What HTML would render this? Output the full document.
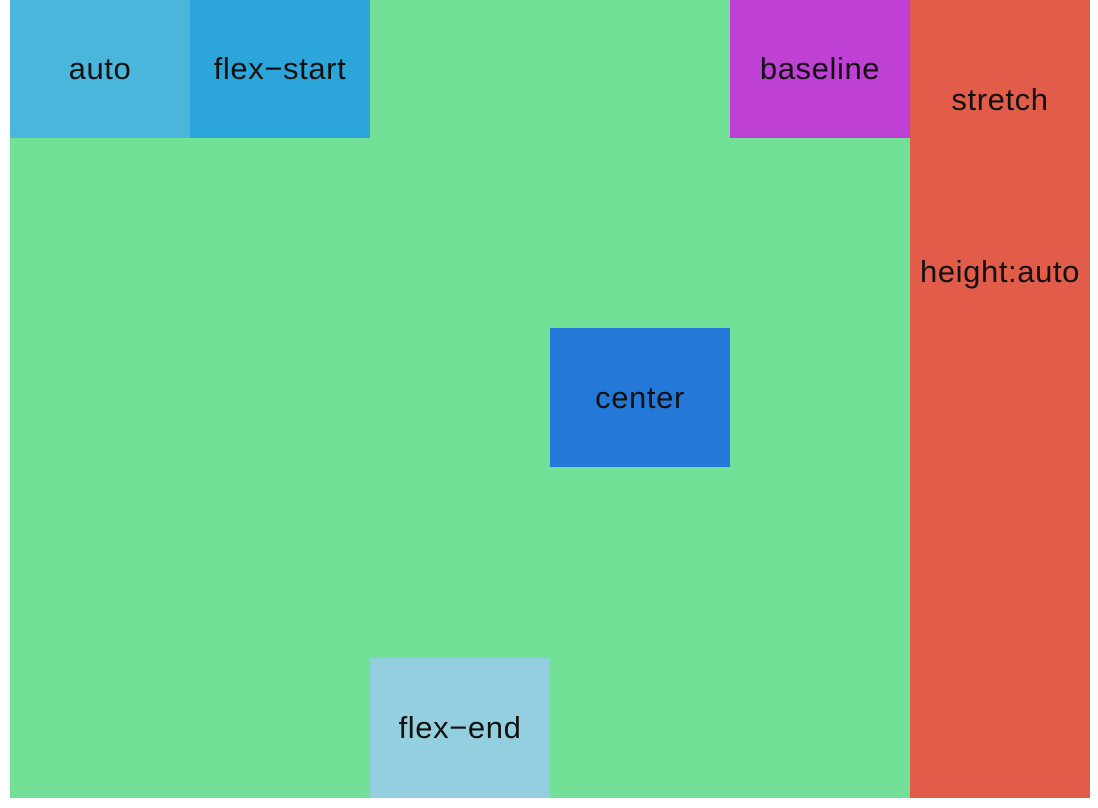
<!DOCTYPE html>
<html><head><style>
body{margin:0;background:#fff;width:1098px;height:808px;position:relative;overflow:hidden;font-family:"Liberation Sans",sans-serif;}
.c{position:absolute;left:10px;top:0;width:1080px;height:798px;background:#72e096;}
.b{position:absolute;width:180px;display:flex;align-items:center;justify-content:center;font-size:31px;letter-spacing:0.6px;color:#111;}
.t{position:absolute;left:0;width:180px;text-align:center;font-size:31px;letter-spacing:0.6px;color:#111;line-height:32px;}
</style></head><body>
<div class="c">
<div class="b" style="left:0;top:0;height:138px;background:#4bb6dc">auto</div>
<div class="b" style="left:180px;top:0;height:138px;background:#2ca6da">flex−start</div>
<div class="b" style="left:360px;top:658px;height:140px;background:#94cfe0">flex−end</div>
<div class="b" style="left:540px;top:328px;height:139px;background:#2478d8">center</div>
<div class="b" style="left:720px;top:0;height:138px;background:#bf40d4">baseline</div>
<div style="position:absolute;left:900px;top:0;width:180px;height:798px;background:#e25c4a">
<div class="t" style="top:84px">stretch</div>
<div class="t" style="top:256px">height:auto</div>
</div>
</div>
</body></html>
